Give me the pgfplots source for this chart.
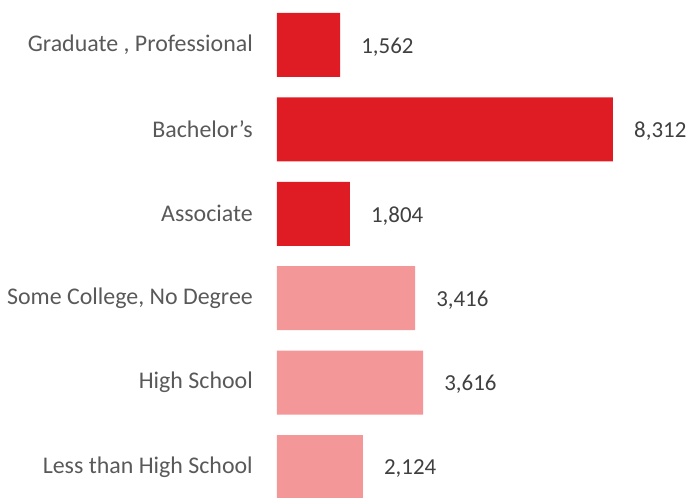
\documentclass[border=0pt]{standalone}
\usepackage{pgfplots}
\pgfplotsset{compat=1.18}
\usepackage{fontspec}
\setmainfont{Carlito}
\definecolor{barred}{HTML}{DF1B23}
\definecolor{barpink}{HTML}{F39798}
\definecolor{valgray}{HTML}{404040}
\definecolor{labgray}{HTML}{595959}
\begin{document}
\begin{tikzpicture}
\begin{axis}[
    xbar,
    scale only axis,
    width=404.2bp,
    height=498bp,
    xmin=0, xmax=10000,
    ymin=-0.367, ymax=5.533,
    bar width=64bp,
    bar shift=0pt,
    hide x axis,
    axis y line*=left,
    y axis line style={draw=none},
    ytick={0,1,2,3,4,5},
    yticklabels={Less than High School, High School, {Some College, No Degree}, Associate, Bachelor’s, {Graduate , Professional}},
    major tick length=0pt,
    yticklabel style={font=\fontsize{24}{28}\selectfont, text=labgray, inner sep=0pt, xshift=-24bp},
    nodes near coords,
    nodes near coords style={font=\fontsize{23}{27}\selectfont, text=valgray, anchor=west, inner sep=0pt, xshift=21bp, yshift=-2bp,
        /pgf/number format/.cd, 1000 sep={,}, assume math mode=true},
]
\addplot[fill=barpink, draw=none] coordinates {(2124,0) (3616,1) (3416,2)};
\addplot[fill=barred, draw=none] coordinates {(1804,3) (8312,4) (1562,5)};
\end{axis}
\pgfresetboundingbox
\path (-277bp,0) rectangle (412bp,498bp);
\end{tikzpicture}
\end{document}
